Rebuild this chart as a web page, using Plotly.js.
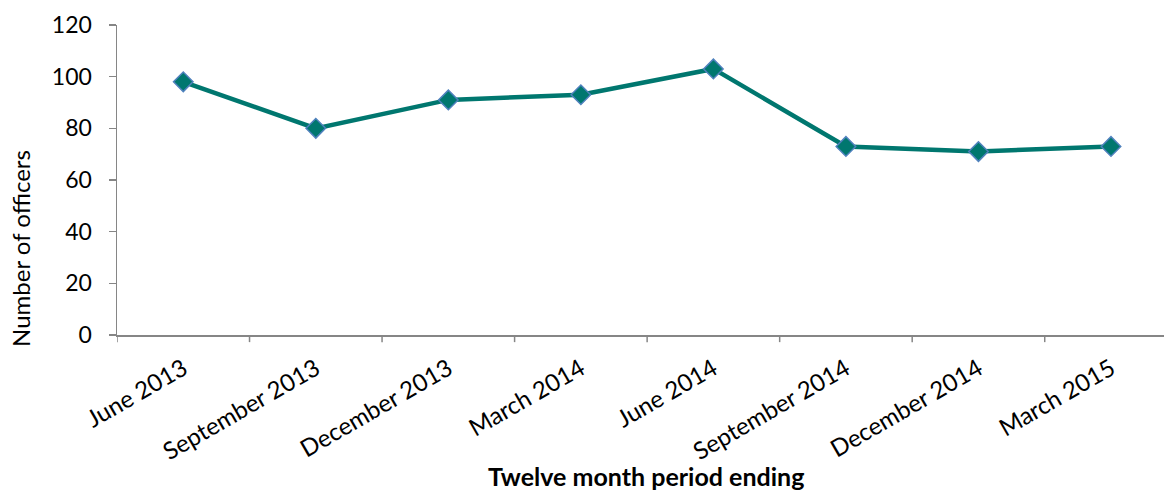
<!DOCTYPE html>
<html>
<head>
<meta charset="utf-8">
<script src="https://cdn.plot.ly/plotly-3.0.1.min.js"></script>
<style>html,body{margin:0;padding:0;background:#fff;}#chart{width:1164px;height:493px;}</style>
</head>
<body>
<div id="chart"></div>
<script>
const categories = ["June 2013", "September 2013", "December 2013", "March 2014", "June 2014", "September 2014", "December 2014", "March 2015"];
const officers = [98, 80, 91, 93, 103, 73, 71, 73];
const yTicks = [0, 20, 40, 60, 80, 100, 120];

const font = "Lato, 'Open Sans', sans-serif";
const axisColor = "#868686";

const trace = {
  x: categories.map((c, i) => i),
  y: officers,
  type: "scatter",
  mode: "lines+markers",
  line: {color: "#00776F", width: 4.5},
  marker: {symbol: "diamond", size: 15, color: "#00776F", line: {color: "#4F81BD", width: 1.5}},
  cliponaxis: false,
  hoverinfo: "x+y"
};

const layout = {
  width: 1164, height: 493,
  margin: {l: 117, r: 0, t: 25, b: 158},
  paper_bgcolor: "#fff", plot_bgcolor: "#fff",
  showlegend: false,
  font: {family: font, size: 22, color: "#000"},
  xaxis: {
    range: [-0.5, 7.4],
    tickmode: "array",
    tickvals: categories.map((c, i) => i),
    ticktext: categories,
    tickangle: -30,
    ticklabelstandoff: 9,
    showgrid: false, zeroline: false,
    showline: true, linecolor: axisColor, linewidth: 1.5,
    ticks: "",
    tickfont: {family: font, size: 24, color: "#000"}
  },
  yaxis: {
    range: [0, 120],
    tickmode: "array",
    tickvals: yTicks,
    ticktext: yTicks.map(String),
    showgrid: false, zeroline: false,
    showline: true, linecolor: axisColor, linewidth: 1.5,
    ticks: "outside", ticklen: 7, tickcolor: axisColor, tickwidth: 1.5,
    ticklabelstandoff: 12,
    tickfont: {family: font, size: 23, color: "#000"}
  },
  shapes: [],
  annotations: [
    {text: "<b>Twelve month period ending</b>", xref: "paper", yref: "paper", x: 0.505, y: -0.5097, xanchor: "center", yanchor: "bottom", showarrow: false, font: {family: font, size: 25, color: "#000"}},
    {text: "Number of officers", xref: "paper", yref: "paper", x: -0.092, y: 0.28, xanchor: "center", yanchor: "middle", textangle: -90, showarrow: false, font: {family: font, size: 24, color: "#000"}}
  ]
};

// boundary tick marks on x axis (between categories)
for (let i = 0; i <= categories.length; i++) {
  layout.shapes.push({type: "line", xref: "x", yref: "paper", x0: i - 0.5, x1: i - 0.5, y0: 0, y1: -0.023, line: {color: axisColor, width: 1.5}});
}

Plotly.newPlot("chart", [trace], layout, {displayModeBar: false, staticPlot: true});
</script>
</body>
</html>
